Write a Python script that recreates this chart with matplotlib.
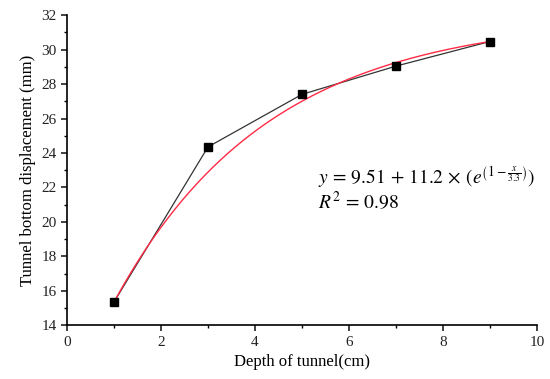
import numpy as np
import matplotlib as mpl
mpl.use('Agg')
import matplotlib.pyplot as plt
from matplotlib.ticker import MultipleLocator

depth = [1, 3, 5, 7, 9]
displacement = [15.35, 24.35, 27.4, 29.04, 30.47]

# decay constant as printed in the fit label
fit_c = 3.3

plt.rcParams['font.family'] = ['Liberation Serif', 'DejaVu Serif']
plt.rcParams['mathtext.fontset'] = 'stix'

# y = A - B*exp(-x/c), pinned to the first and last measurement
x0, x1 = depth[0], depth[-1]
y0, y1 = displacement[0], displacement[-1]
B = (y1 - y0) / (np.exp(-x0 / fit_c) - np.exp(-x1 / fit_c))
A = y1 + B * np.exp(-x1 / fit_c)
xf = np.linspace(x0, x1, 200)
yf = A - B * np.exp(-xf / fit_c)

fig = plt.figure(figsize=(5.5, 3.79), dpi=100)
ax = fig.add_axes([0.122, 0.142, 0.854, 0.818])

ax.plot(depth, displacement, '-', color='#333333', lw=0.9, zorder=2)
ax.plot(xf, yf, '-', color='#ff2a45', lw=1.0, zorder=3)
ax.plot(depth, displacement, 's', color='black', ms=6, zorder=4)

ax.set_xlim(0, 10)
ax.set_ylim(14, 32)
ax.xaxis.set_major_locator(MultipleLocator(2))
ax.xaxis.set_minor_locator(MultipleLocator(1))
ax.yaxis.set_major_locator(MultipleLocator(2))
ax.yaxis.set_minor_locator(MultipleLocator(1))
ax.spines['top'].set_visible(False)
ax.spines['right'].set_visible(False)
ax.spines['left'].set_linewidth(1.2)
ax.spines['bottom'].set_linewidth(1.2)
ax.tick_params(which='major', direction='out', length=4, width=1.2, labelsize=11, colors='#222222')
ax.tick_params(which='minor', direction='out', length=2.5, width=1.0)

ax.set_xlabel('Depth of tunnel(cm)', fontsize=12, labelpad=4)
ax.set_ylabel('Tunnel bottom displacement (mm)', fontsize=12, labelpad=4)

ax.text(0.534, 0.478, r'$y\,=\,9.51\,+\,11.2\,\times\,(e^{\left(1-\frac{x}{3.3}\right)})$',
        transform=ax.transAxes, fontsize=14, va='center', ha='left')
ax.text(0.534, 0.398, r'$R^2\,=\,0.98$', transform=ax.transAxes,
        fontsize=14, va='center', ha='left')

fig.savefig('out.png', dpi=100)
